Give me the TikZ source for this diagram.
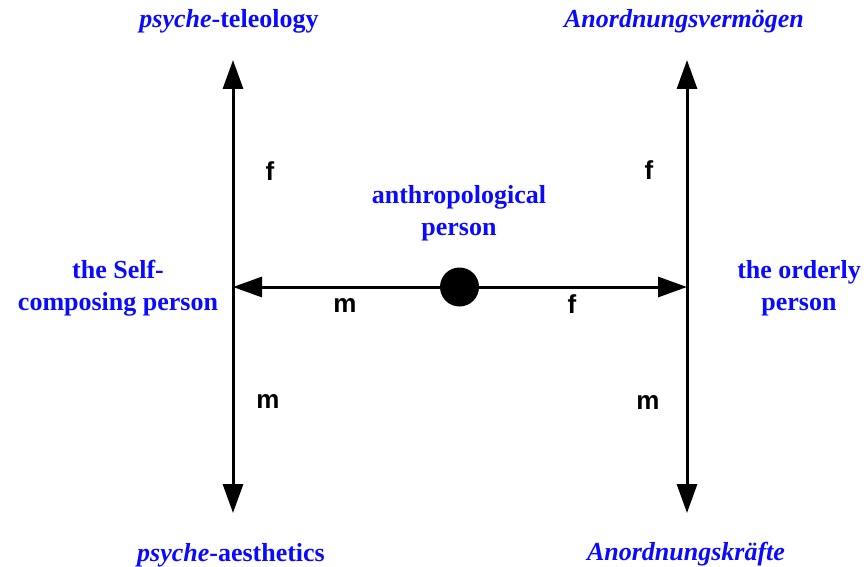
\documentclass[tikz,border=0pt]{standalone}
\usepackage{fontspec}
\setmainfont{Liberation Serif}
\newfontfamily\letterfont{Liberation Sans}
\usetikzlibrary{arrows.meta}
\definecolor{termblue}{RGB}{10,10,255}

\tikzset{
  term/.style={text=termblue, align=center, inner sep=0pt,
    font=\fontsize{26}{32}\selectfont\bfseries},
  letter/.style={inner sep=0pt, font=\fontsize{26}{30}\selectfont\letterfont\bfseries},
  axis/.style={line width=3pt, line cap=butt,
    -{Triangle[length=29pt,width=20pt]}},
}

\begin{document}
\begin{tikzpicture}[x=1pt,y=-1pt]
\useasboundingbox (0,0) rectangle (864,567);

% =====================================================================
% Axis end points  (left axis x=233, right axis x=687, centre line y=287)
% =====================================================================
\coordinate (ltop) at (233,60);
\coordinate (lbot) at (233,513);
\coordinate (lmid) at (233,287);
\coordinate (rtop) at (687,60);
\coordinate (rbot) at (687,513);
\coordinate (rmid) at (687,287);

% =====================================================================
% Vertical axes with arrow tips at both ends
% =====================================================================
\draw[axis, {Triangle[length=29pt,width=20pt]}-{Triangle[length=29pt,width=20pt]}]
  (ltop) -- (lbot);
\draw[axis, {Triangle[length=29pt,width=20pt]}-{Triangle[length=29pt,width=20pt]}]
  (rtop) -- (rbot);

% =====================================================================
% Anthropological person: dot on the centre line, arrows to both axes
% =====================================================================
\node[circle, fill=black, inner sep=0pt, minimum size=39pt] (anthro) at (459.5,287) {};
\draw[axis] (anthro) -- (lmid);
\draw[axis] (anthro) -- (rmid);

\node[term] (anthrolabel) at (459,213) {anthropological\\person};

% =====================================================================
% Axis end labels
% =====================================================================
\node[term, anchor=base] (lupper) at (229,28) {\textit{psyche}-teleology};
\node[term, anchor=base] (llower) at (231,561) {\textit{psyche}-aesthetics};
\node[term, anchor=base] (rupper) at (684,28) {\textit{Anordnungsvermögen}};
\node[term, anchor=base] (rlower) at (686,560) {\textit{Anordnungskräfte}};

% Side labels, centred on the centre line
\node[term] (selfperson)    at (118,288) {the Self-\\composing person};
\node[term] (orderlyperson) at (799,288) {the orderly\\person};

% =====================================================================
% f / m letters along the axes and the centre line
% =====================================================================
\foreach \xl/\yl/\tl/\nl in {270/171/f/luf, 268/401/m/llm,
                             649/170/f/ruf, 648/402/m/rlm,
                             345/305/m/cm,  572/304/f/cf}{
  \node[letter] (\nl) at (\xl,\yl) {\tl};
}

\end{tikzpicture}
\end{document}
